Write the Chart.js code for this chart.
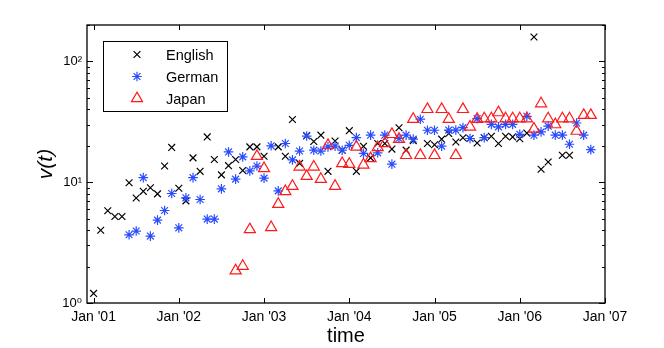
<!DOCTYPE html>
<html>
<head>
<meta charset="utf-8">
<script src="https://cdn.jsdelivr.net/npm/chart.js@4.4.1/dist/chart.umd.min.js"></script>
<style>
  html, body { margin: 0; padding: 0; background: #fff; }
  #wrap { width: 664px; height: 348px; }
</style>
</head>
<body>
<div id="wrap"><canvas id="chart" width="664" height="348"></canvas></div>
<script>
// ── DATA ───────────────────────────────────────
// months counted from Jan 2001 (0 = Jan '01)
const englishMonths = [0, 1, 2, 3, 4, 5, 6, 7, 8, 9, 10, 11, 12, 13, 14, 15, 16, 17, 18, 19, 20, 21, 22, 23, 24,
  26, 27, 28, 29, 30, 31, 32, 33, 34, 35, 36, 37, 38, 39, 40, 41, 42, 43, 44, 45,
  47, 48, 49, 50, 51, 52, 53, 54, 55, 56, 57, 58, 59, 60, 61, 62, 63, 64, 66, 67];
const englishVals = [1.2, 4.0, 5.8, 5.2, 5.2, 9.9, 7.4, 8.4, 9.0, 8.0, 13.6, 19.4, 8.9, 7.0, 15.9, 12.3, 23.7, 15.4, 11.5, 13.7, 15.4, 12.5, 19.6, 19.6, 16.4,
  19.6, 16.4, 33, 14.3, 24.3, 21.7, 24.5, 12.3, 21.9, 18.4, 26.7, 12.3, 19.8, 15.9, 20.9, 20.9, 18.8, 28.2, 18.4, 22.1,
  20.9, 20.4, 22.7, 25.3, 21.5, 23.3, 23, 21.1, 23.3, 24, 20.9, 24, 23.7, 22.9, 25.5, 159, 12.8, 14.7, 16.7, 16.7];

const germanStart = 5;   // Jun '01
const germanVals = [3.67, 3.94, 10.9, 3.58, 4.85, 5.83, 8.06, 4.19, 7.42, 10.9, 7.19, 4.95, 4.95, 8.81, 17.8, 10.6,
  16.2, 12.4, 13.6, 10.8, 20, 8.47, 20.9, 15.3, 18.1, 24.1, 18.4, 18.1, 19.6, 19.9, 18.4, 20.2, 23.4, 17.3, 24.5,
  17.5, 24.5, 14.1, 23, 24.5, 22.7, 33.2, 26.9, 26.9, 19.9, 27, 27, 28.3, 23, 33.6, 23.4, 30.1, 28.7, 30.1, 30.1,
  24.9, 35.1, 24.5, 26.1, 29.1, 24.5, 24.5, 20.6, 30.9, 24.5, 18.6];

const japanStart = 20;   // Sep '02
const japanVals = [1.85, 2.02, 4.06, 16.4, 13.0, 4.22, 6.58, 8.38, 9.27, 13.4, 11.2, 13.4, 10.6, 20.2, 9.27, 14.3,
  14.1, 19.6, 13.9, 15.7, 19.4, 20.9, 24.9, 22.7, 16.7, 33.2, 16.7, 40.1, 16.7, 40.1, 33.2, 16.7, 40.1, 28.7, 33.2,
  33.6, 33.6, 37.7, 33.6, 33.6, 33.6, 33.6, 27.6, 44.7, 33.6, 30, 33.6, 33.6, 26.5, 35.8, 35.8];

const yearTicks = [2001, 2002, 2003, 2004, 2005, 2006, 2007];
const logTicks = [1, 2, 3, 4, 5, 6, 7, 8, 9, 10, 20, 30, 40, 50, 60, 70, 80, 90, 100, 200];
const logLabels = { 1: '10\u2070', 10: '10\u00B9', 100: '10\u00B2' };

const seriesNames = ['English', 'German', 'Japan'];
const seriesColors = ['#000000', '#2a4cff', '#ff1a1a'];
const seriesStyles = ['crossRot', 'star', 'triangle'];
const seriesRadius = [4.8, 4.8, 6.4];

const FONT = "'Liberation Sans', Arial, 'DejaVu Sans', sans-serif";
Chart.defaults.font.family = FONT;
Chart.defaults.color = '#000';

const toYear = m => 2001 + m / 12;
const englishPts = englishMonths.map((m, i) => ({ x: toYear(m), y: englishVals[i] }));
const germanPts  = germanVals.map((v, i) => ({ x: toYear(germanStart + i), y: v }));
const japanPts   = japanVals.map((v, i) => ({ x: toYear(japanStart + i), y: v }));

// ── FRAME + INWARD TICKS (matlab style) ────────
const frameTicks = {
  id: 'frameTicks',
  afterDatasetsDraw(chart) {
    const { ctx, chartArea: a, scales: { x, y } } = chart;
    ctx.save();
    ctx.strokeStyle = '#000';
    ctx.lineWidth = 1;
    ctx.beginPath();
    x.ticks.forEach(t => {
      const px = Math.round(x.getPixelForValue(t.value)) + 0.5;
      ctx.moveTo(px, a.bottom); ctx.lineTo(px, a.bottom - 5);
      ctx.moveTo(px, a.top);    ctx.lineTo(px, a.top + 5);
    });
    y.ticks.forEach(t => {
      const len = logLabels[t.value] ? 6 : 3;
      const py = Math.round(y.getPixelForValue(t.value)) + 0.5;
      ctx.moveTo(a.left, py);  ctx.lineTo(a.left + len, py);
      ctx.moveTo(a.right, py); ctx.lineTo(a.right - len, py);
    });
    ctx.stroke();
    ctx.lineWidth = 1.3;
    ctx.strokeRect(a.left, a.top, a.right - a.left, a.bottom - a.top);
    ctx.restore();
  }
};

// ── LEGEND BOX inside plot ─────────────────────
const boxLegend = {
  id: 'boxLegend',
  afterDraw(chart) {
    const { ctx } = chart;
    const bx = 103.5, by = 41.5, bw = 124, bh = 70;
    ctx.save();
    ctx.fillStyle = '#fff';
    ctx.fillRect(bx, by, bw, bh);
    ctx.strokeStyle = '#000';
    ctx.lineWidth = 1;
    ctx.strokeRect(bx, by, bw, bh);
    ctx.font = '14.5px ' + FONT;
    ctx.textBaseline = 'middle';
    seriesNames.forEach((name, i) => {
      const ry = by + 13 + i * 22;
      ctx.strokeStyle = seriesColors[i];
      ctx.fillStyle = 'rgba(0,0,0,0)';
      ctx.lineWidth = 1.2;
      Chart.helpers.drawPoint(ctx, { pointStyle: seriesStyles[i], radius: seriesRadius[i], borderWidth: 1.2, rotation: 0 }, 137, ry);
      ctx.fillStyle = '#000';
      ctx.fillText(name, 166, ry + 1);
    });
    ctx.restore();
  }
};

const mkSet = (i, pts, order) => ({
  label: seriesNames[i],
  data: pts,
  pointStyle: seriesStyles[i],
  pointRadius: seriesRadius[i],
  pointBorderWidth: 1.2,
  borderColor: seriesColors[i],
  backgroundColor: 'rgba(0,0,0,0)',
  showLine: false,
  order: order
});

new Chart(document.getElementById('chart').getContext('2d'), {
  type: 'scatter',
  data: {
    datasets: [
      mkSet(0, englishPts, 2),
      mkSet(1, germanPts, 1),
      mkSet(2, japanPts, 0)
    ]
  },
  options: {
    responsive: false,
    animation: false,
    events: [],
    layout: { padding: { top: 25, right: 59, bottom: 0, left: 0 } },
    plugins: { legend: { display: false }, tooltip: { enabled: false } },
    scales: {
      x: {
        type: 'linear',
        min: 2000.923,
        max: 2007,
        afterBuildTicks: s => { s.ticks = yearTicks.map(v => ({ value: v })); },
        afterFit: s => { s.height = 45; },
        grid: { display: false, drawTicks: false },
        border: { display: false },
        ticks: {
          autoSkip: false, maxRotation: 0, padding: 6,
          font: { size: 14 },
          callback: v => "Jan '" + String(v).slice(2)
        },
        title: { display: true, text: 'time', font: { size: 20 }, padding: { top: 0, bottom: 0 } }
      },
      y: {
        type: 'logarithmic',
        min: 1,
        max: 200,
        afterBuildTicks: s => { s.ticks = logTicks.map(v => ({ value: v })); },
        afterFit: s => { s.width = 87; },
        grid: { display: false, drawTicks: false },
        border: { display: false },
        ticks: {
          autoSkip: false, padding: 5,
          font: { size: 13 },
          callback: v => logLabels[v] || ''
        },
        title: { display: true, text: 'v(t)', font: { size: 21, style: 'italic' }, padding: { top: 34, bottom: 0 } }
      }
    }
  },
  plugins: [frameTicks, boxLegend]
});
</script>
</body>
</html>
